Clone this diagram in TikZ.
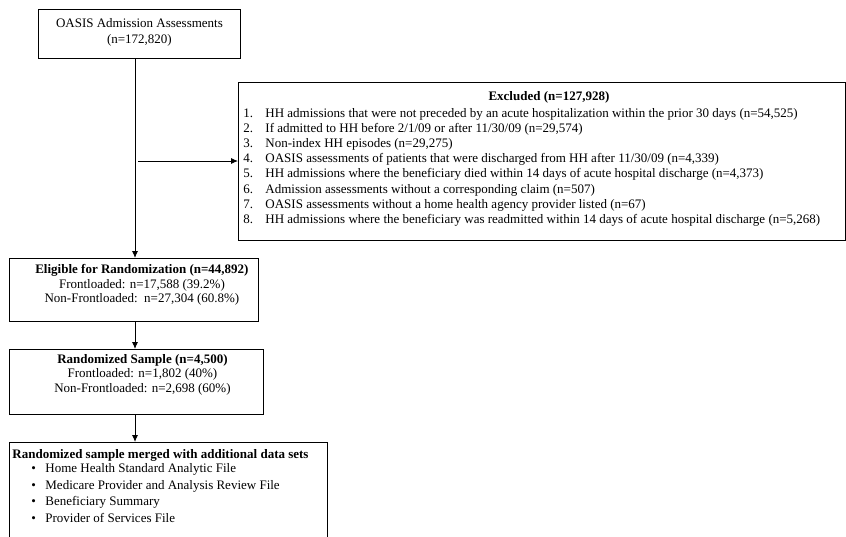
\documentclass[tikz,border=0pt]{standalone}
\usepackage{fontspec}
\setmainfont{Liberation Serif}
\usetikzlibrary{arrows.meta}

% text body of a box: height, width, first-line gap, baselineskip, text
\newcommand{\boxbody}[5]{\parbox[c][#1][t]{#2}{\fontsize{13}{#4}\selectfont\vspace*{#3}#5}}
\newcommand{\exitem}[2]{\makebox[22pt][l]{#1}#2\par}
\newcommand{\dotitem}[1]{\hspace*{22pt}\makebox[14pt][l]{\textbullet}#1\par}

\begin{document}
\begin{tikzpicture}[x=1pt,y=-1pt]
\tikzstyle{block} = [rectangle, draw=black, line width=0.9pt, inner sep=0pt, anchor=north west]
\tikzstyle{arrow} = [line width=0.9pt,-{Latex[length=7pt,width=6pt]}]

\useasboundingbox (0,0) rectangle (846,536);

\node (oasis) [block] at (38,9) {\boxbody{49pt}{202pt}{9pt}{16pt}{\centering
  OASIS Admission Assessments\\(n=172,820)\par}};
\node (excluded) [block] at (238,82) {\boxbody{158pt}{607pt}{9pt}{15.1pt}{%
  \leftskip=5pt
  {\centering\hspace*{14pt}\textbf{Excluded (n=127,928)}\par}
  \vspace*{2pt}
  \exitem{1.}{HH admissions that were not preceded by an acute hospitalization within the prior 30 days (n=54,525)}
  \exitem{2.}{If admitted to HH before 2/1/09 or after 11/30/09 (n=29,574)}
  \exitem{3.}{Non-index HH episodes (n=29,275)}
  \exitem{4.}{OASIS assessments of patients that were discharged from HH after 11/30/09 (n=4,339)}
  \exitem{5.}{HH admissions where the beneficiary died within 14 days of acute hospital discharge (n=4,373)}
  \exitem{6.}{Admission assessments without a corresponding claim (n=507)}
  \exitem{7.}{OASIS assessments without a home health agency provider listed (n=67)}
  \exitem{8.}{HH admissions where the beneficiary was readmitted within 14 days of acute hospital discharge (n=5,268)}}};
\node (eligible) [block] at (9,258) {\boxbody{63pt}{249pt}{6pt}{14.5pt}{\centering\leftskip=16pt plus 1fil
  \textbf{Eligible for Randomization (n=44,892)}\\
  Frontloaded: n=17,588 (39.2\%)\\
  Non-Frontloaded:\ \ n=27,304 (60.8\%)\par}};
\node (randomized) [block] at (9,349) {\boxbody{65pt}{254pt}{5pt}{14.5pt}{\centering\leftskip=12pt plus 1fil
  \textbf{Randomized Sample (n=4,500)}\\
  Frontloaded: n=1,802 (40\%)\\
  Non-Frontloaded: n=2,698 (60\%)\par}};
\node (merged) [block] at (9,442) {\boxbody{110pt}{318pt}{7pt}{16.5pt}{%
  \hspace*{3pt}\textbf{Randomized sample merged with additional data sets}\par
  \vspace*{-2pt}
  \dotitem{Home Health Standard Analytic File}
  \dotitem{Medicare Provider and Analysis Review File}
  \dotitem{Beneficiary Summary}
  \dotitem{Provider of Services File}}};

\coordinate (spine) at (135,0);
\coordinate (split) at (138,161);

\draw [arrow] (oasis.south -| spine) -- (eligible.north -| spine);
\draw [arrow] (split) -- (split -| excluded.west);
\draw [arrow] (eligible.south -| spine) -- (randomized.north -| spine);
\draw [arrow] (randomized.south -| spine) -- (merged.north -| spine);

\end{tikzpicture}
\end{document}
